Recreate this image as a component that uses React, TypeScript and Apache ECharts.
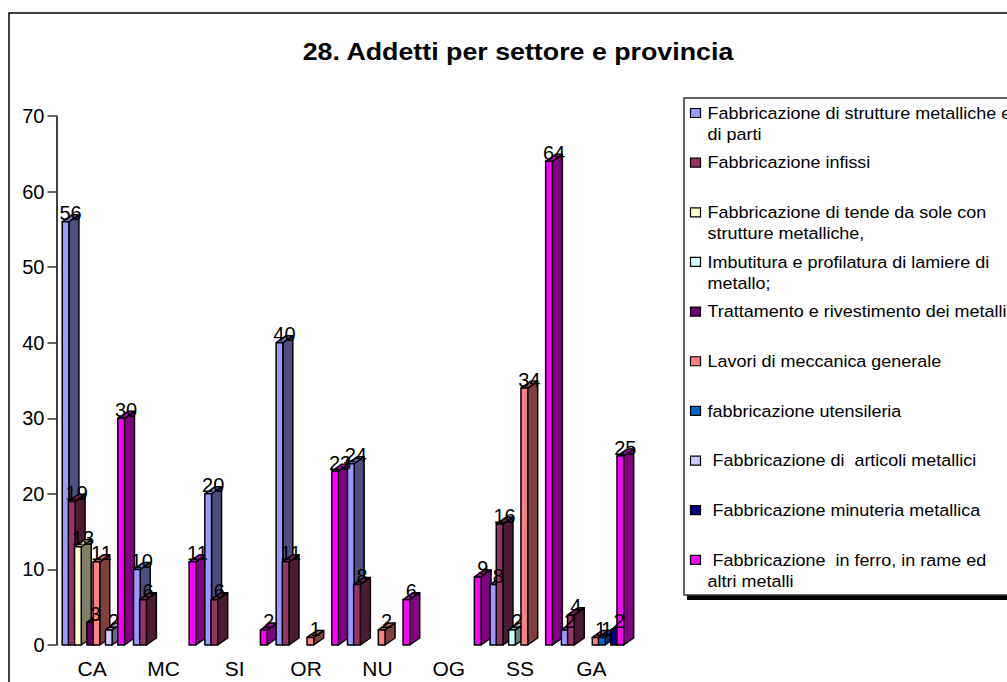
import React, { useEffect, useRef } from "react";
import * as echarts from "echarts";

const FONT = "'Liberation Sans', Arial, sans-serif";

const title = "28. Addetti per settore e provincia";
const provinces = ["CA", "MC", "SI", "OR", "NU", "OG", "SS", "GA"];
const yTicks = { min: 0, max: 70, interval: 10 };

const sectorNames = [
  "Fabbricazione di strutture metalliche e\ndi parti",
  "Fabbricazione infissi",
  "Fabbricazione di tende da sole con\nstrutture metalliche,",
  "Imbutitura e profilatura di lamiere di\nmetallo;",
  "Trattamento e rivestimento dei metalli",
  "Lavori di meccanica generale",
  "fabbricazione utensileria",
  "\u00a0Fabbricazione di  articoli metallici",
  "\u00a0Fabbricazione minuteria metallica",
  "\u00a0Fabbricazione  in ferro, in rame ed\naltri metalli",
];

const sectorColors = [
  "#9999FF", "#993366", "#FFFFCC", "#CCFFFF", "#660066",
  "#FF8080", "#0066CC", "#CCCCFF", "#000080", "#FF00FF",
];

// One row per sector, one column per province; null means no bar.
const strutture = [56, 10, 20, 40, 24, null, 8, 2];
const infissi = [19, 6, 6, 11, 8, null, 16, 4];
const tende = [13, null, null, null, null, null, null, null];
const imbutitura = [null, null, null, null, null, null, 2, null];
const trattamento = [3, null, null, null, null, null, null, null];
const meccanica = [11, null, null, 1, 2, null, 34, 1];
const utensileria = [null, null, null, null, null, null, null, 1];
const articoli = [2, null, null, null, null, null, null, null];
const minuteria = [null, null, null, null, null, null, null, 2];
const ferro = [30, 11, 2, 23, 6, 9, 64, 25];

const sectorValues = [
  strutture, infissi, tende, imbutitura, trattamento,
  meccanica, utensileria, articoli, minuteria, ferro,
];

function shade(hex: string, k: number) {
  const n = parseInt(hex.slice(1), 16);
  const c = [(n >> 16) & 255, (n >> 8) & 255, n & 255].map((v) => Math.round(v * k));
  return `rgb(${c[0]},${c[1]},${c[2]})`;
}

// Draws one bar as a front face, side face and top face, plus its value label.
function makeBarRenderer(sector: number) {
  return (_params: any, api: any) => {
    const cat = api.value(0);
    const val = api.value(1);
    const base = api.coord([cat, 0]);
    const top = api.coord([cat, val]);
    const band = api.size([1, 0])[0];
    const step = band * 0.0866;
    const w = 6.7;
    const dx = 10;
    const dy = 7;
    const x0 = base[0] - band * 0.42 + step * sector;
    const x1 = x0 + w;
    const yb = base[1];
    const yt = top[1];
    const color = sectorColors[sector];
    const z2 = (cat + 1) * 100 + sector * 2;
    const edge = { stroke: "#000", lineWidth: 1.5, lineJoin: "round" };
    const face = (points: number[][], fill: string) => ({
      type: "polygon",
      z2,
      silent: true,
      shape: { points },
      style: { fill, ...edge },
    });
    return {
      type: "group",
      children: [
        face([[x1, yb], [x1 + dx, yb - dy], [x1 + dx, yt - dy], [x1, yt]], shade(color, 0.5)),
        face([[x0, yt], [x0 + dx, yt - dy], [x1 + dx, yt - dy], [x1, yt]], shade(color, 0.75)),
        face([[x0, yb], [x1, yb], [x1, yt], [x0, yt]], color),
        {
          type: "text",
          z2: 5000,
          silent: true,
          style: {
            text: String(val),
            x: x0 + w / 2 + 5,
            y: yt - 8.5,
            align: "center",
            verticalAlign: "middle",
            fontFamily: FONT,
            fontSize: 20,
            fill: "#000",
          },
        },
      ],
    };
  };
}

function legendGraphics() {
  const left = 684;
  const boxTop = 98;
  const boxBottom = 595;
  const rowTop = 113;
  const rowGap = 49.65;
  const items: any[] = [
    {
      type: "rect",
      shape: { x: 687, y: boxBottom, width: 400, height: 5 },
      style: { fill: "#000" },
    },
    {
      type: "rect",
      shape: { x: left, y: boxTop, width: 400, height: boxBottom - boxTop },
      style: { fill: "#fff", stroke: "#333", lineWidth: 1.5 },
    },
  ];
  sectorNames.forEach((name, i) => {
    const cy = rowTop + rowGap * i;
    items.push({
      type: "rect",
      shape: { x: 690.5, y: cy - 4.5, width: 10, height: 9 },
      style: { fill: sectorColors[i], stroke: "#000", lineWidth: 1.2 },
    });
    items.push({
      type: "text",
      x: 707.5,
      y: cy - 10.5,
      scaleX: 1.09,
      style: {
        text: name,
        align: "left",
        verticalAlign: "top",
        fontFamily: FONT,
        fontSize: 16.5,
        lineHeight: 21,
        fill: "#000",
      },
    });
  });
  return items;
}

export default function App() {
  const ref = useRef<HTMLDivElement>(null);

  useEffect(() => {
    const chart = echarts.init(ref.current!, null, { renderer: "svg" });
    chart.setOption({
      animation: false,
      backgroundColor: "#fff",
      grid: { left: 56.5, right: 380, top: 116, bottom: 37 },
      xAxis: {
        type: "category",
        data: provinces,
        axisLine: { show: false },
        axisTick: { show: false },
        axisLabel: { fontFamily: FONT, fontSize: 21, color: "#000", margin: 13 },
      },
      yAxis: {
        type: "value",
        ...yTicks,
        splitLine: { show: false },
        axisLine: { show: true, lineStyle: { color: "#000", width: 1.5 } },
        axisTick: { show: true, length: 9, lineStyle: { color: "#333", width: 1.5 } },
        axisLabel: { fontFamily: FONT, fontSize: 20, color: "#000", margin: 12 },
      },
      series: sectorValues.map((values, sector) => ({
        type: "custom",
        name: sectorNames[sector],
        clip: false,
        encode: { x: 0, y: 1 },
        renderItem: makeBarRenderer(sector),
        data: values
          .map((v, cat) => (v === null ? null : [cat, v]))
          .filter((d) => d !== null),
      })),
      graphic: [
        {
          type: "rect",
          shape: { x: 9, y: 13, width: 1100, height: 800 },
          style: { fill: "none", stroke: "#000", lineWidth: 1.5 },
          silent: true,
        },
        {
          type: "text",
          x: 518,
          y: 52,
          scaleX: 1.14,
          style: {
            text: title,
            align: "center",
            verticalAlign: "middle",
            fontFamily: FONT,
            fontSize: 23.5,
            fontWeight: "bold",
            fill: "#000",
          },
        },
        { type: "group", children: legendGraphics() },
      ],
    });
    return () => chart.dispose();
  }, []);

  return (
    <div
      ref={ref}
      style={{ position: "fixed", left: 0, top: 0, width: 1007, height: 682 }}
    />
  );
}
